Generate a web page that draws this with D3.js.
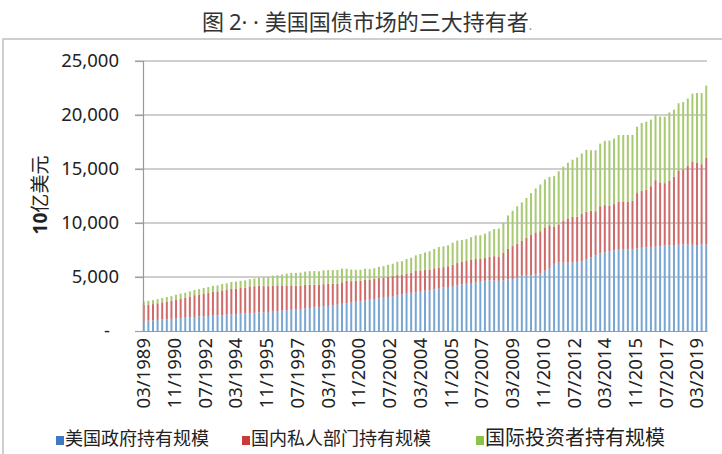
<!DOCTYPE html>
<html><head><meta charset="utf-8">
<script src="https://cdn.jsdelivr.net/npm/d3@7"></script>
<style>body{margin:0;background:#fff}svg{display:block}</style>
</head><body><svg id="c" width="722" height="454"></svg>
<script>
const titleParts = ["图 ", "2· · ", "美国国债市场的三大持有者"];
const yTitle = ["10", "亿美元"];
const seriesNames = ["美国政府持有规模", "国内私人部门持有规模", "国际投资者持有规模"];
const colors = ["#78a5d2", "#cf6a6a", "#a8ca72"];
const legendColors = ["#3f78c4", "#c93a3a", "#8cc24a"];
// quarterly, 03/1989 .. 09/2019 (billions USD)
const govt = [
 930,960,990,1030, 1060,1090,1120,1160, 1190,1230,1260,1300, 1330,1360,1390,1420,
 1440,1470,1500,1530, 1560,1600,1630,1660, 1680,1720,1740,1760, 1790,1840,1880,1920,
 1960,2010,2050,2090, 2130,2190,2230,2270, 2320,2390,2440,2520, 2560,2640,2700,2760,
 2810,2890,2960,3030, 3080,3150,3220,3310, 3370,3460,3530,3590, 3640,3730,3790,3860,
 3920,4030,4080,4150, 4210,4310,4380,4440, 4490,4610,4650,4690, 4670,4640,4690,4760,
 4820,5000,5180,5180, 5150,5250,5330,5580, 5820,6220,6330,6330, 6330,6370,6400,6460,
 6600,6830,6990,7180, 7300,7400,7470,7530, 7530,7550,7540,7630, 7700,7740,7790,7820,
 7850,7920,7930,7960, 7990,8010,8020,7980, 7950,8030,8010];
const privateDom = [
 1480,1490,1500,1530, 1590,1640,1690,1760, 1820,1850,1940,2020, 2050,2100,2140,2220,
 2230,2290,2290,2360, 2370,2390,2380,2470, 2470,2470,2410,2390, 2420,2390,2350,2300,
 2260,2190,2130,2170, 2160,2100,2080,2060, 2060,1990,1940,1990, 2100,1970,1960,1880,
 1950,1860,1860,1870, 1870,1870,1890,1910, 1840,1870,1870,1970, 1960,1940,1860,1950,
 1960,1880,1920,1990, 2080,2130,2100,2140, 2170,2070,2120,2190, 2260,2260,2530,2860,
 3040,3090,3160,3440, 3740,3880,3910,4010, 3970,3430,3550,3880, 4100,4180,4190,4400,
 4440,4310,4100,4380, 4350,4210,4280,4450, 4450,4440,4500,5140, 5280,5360,5620,6150,
 5920,5770,6010,6320, 6880,6960,7270,7720, 7650,7410,8040];
const foreign = [
 330,350,370,390, 400,410,420,440, 450,460,470,480, 500,520,530,540,
 560,590,620,650, 650,660,680,670, 710,760,820,840, 910,930,990,1100,
 1160,1180,1230,1240, 1250,1260,1220,1280, 1270,1260,1280,1270, 1110,1080,1010,1020,
 1010,980,990,1040, 1060,1110,1120,1190, 1250,1340,1380,1440, 1530,1600,1730,1790,
 1900,1930,1930,2030, 2080,1980,2030,2100, 2190,2190,2240,2350, 2510,2590,2800,3080,
 3270,3460,3570,3690, 3880,4070,4320,4440, 4480,4690,4910,5010, 5150,5310,5480,5570,
 5730,5600,5650,5790, 5950,6020,6070,6160, 6170,6160,6110,6150, 6280,6280,6160,6010,
 6080,6150,6300,6210, 6220,6230,6230,6270, 6430,6580,6670];
const yTicks = [0, 5000, 10000, 15000, 20000, 25000];

// month slots for the date axis
const months = [];
for (let y = 1989, m = 3; y < 2019 || (y === 2019 && m <= 9);) {
  months.push(String(m).padStart(2, "0") + "/" + y);
  m++; if (m > 12) { m = 1; y++; }
}
const quarters = months.filter((d, i) => i % 3 === 0);
const tickMonths = months.filter((d, i) => i % 20 === 0);

const data = quarters.map((q, i) => ({ q, g: govt[i], p: privateDom[i], f: foreign[i] }));
const keys = ["g", "p", "f"];

const svg = d3.select("#c");
const L = 143, R = 707, T = 61, B = 331;
const x = d3.scaleBand().domain(months).range([L, R]).padding(0);
const y = d3.scaleLinear().domain([0, 25000]).range([B, T]);

// chart frame
svg.append("rect").attr("x", 3).attr("y", 39).attr("width", 740).attr("height", 440)
  .attr("fill", "none").attr("stroke", "#c4c4c4").attr("stroke-width", 1.6);

// title
const tt = svg.append("text").attr("x", 367).attr("y", 30).attr("text-anchor", "middle")
  .attr("font-family", "'Noto Sans CJK SC', sans-serif").attr("font-size", 22).attr("fill", "#333");
tt.append("tspan").text(titleParts[0]);
tt.append("tspan").attr("font-family", "'Noto Sans', sans-serif").text(titleParts[1]);
tt.append("tspan").text(titleParts[2]);
tt.append("tspan").attr("font-size", 12).attr("fill", "#888").text(".");

// gridlines
svg.append("g").selectAll("line").data(yTicks.filter(d => d > 0)).join("line")
  .attr("x1", L - 8).attr("x2", R).attr("y1", d => y(d)).attr("y2", d => y(d))
  .attr("stroke", "#a0a0a0").attr("stroke-width", 1.2);

// bars
const stack = d3.stack().keys(keys)(data);
const barW = 2;
svg.append("g").selectAll("g").data(stack).join("g")
  .attr("fill", (d, i) => colors[i])
  .selectAll("rect").data(d => d).join("rect")
  .attr("x", d => x(d.data.q) + x.bandwidth() / 2 - barW / 2)
  .attr("width", barW)
  .attr("y", d => y(d[1]))
  .attr("height", d => y(d[0]) - y(d[1]));

// y axis
const yAxis = d3.axisLeft(y).tickValues(yTicks).tickSize(8).tickPadding(16)
  .tickFormat(d => d === 0 ? "-" : d3.format(",")(d));
const gy = svg.append("g").attr("transform", `translate(${L},0)`).call(yAxis);
gy.select(".domain").attr("stroke", "#999").attr("stroke-width", 1.2);
gy.selectAll(".tick line").attr("stroke", "#a0a0a0").attr("stroke-width", 1.2);
gy.selectAll(".tick text").attr("font-family", "'Noto Sans', sans-serif")
  .attr("font-size", 18.5).attr("fill", "#222")
  .attr("dx", d => d === 0 ? -9 : 0);

// x axis
const xAxis = d3.axisBottom(x).tickValues(tickMonths).tickSize(0).tickPadding(6);
const gx = svg.append("g").attr("transform", `translate(0,${B})`).call(xAxis);
gx.select(".domain").attr("stroke", "#999").attr("stroke-width", 1);
gx.selectAll(".tick text")
  .attr("font-family", "'Noto Sans', sans-serif").attr("font-size", 18.5).attr("fill", "#222")
  .attr("transform", "rotate(-90)").attr("text-anchor", "end")
  .attr("x", -7).attr("y", 0).attr("dy", "0.35em");

// y title
const yt = svg.append("text").attr("transform", "translate(47,195) rotate(-90)")
  .attr("text-anchor", "middle").attr("fill", "#222").attr("font-size", 19);
yt.append("tspan").attr("font-family", "'Noto Sans', sans-serif").attr("font-weight", "bold").text(yTitle[0]);
yt.append("tspan").attr("font-family", "'Noto Sans CJK SC', sans-serif").text(yTitle[1]);

// legend
const legX = [56, 242, 476];
const legFs = [18, 18, 20];
const lg = svg.append("g").selectAll("g").data(seriesNames).join("g")
  .attr("transform", (d, i) => `translate(${legX[i]},439)`);
lg.append("rect").attr("x", 0).attr("y", -3).attr("width", 8).attr("height", 9)
  .attr("fill", (d, i) => legendColors[i]);
lg.append("text").attr("x", 9).attr("y", 6).attr("font-size", (d, i) => legFs[i])
  .attr("font-family", "'Noto Sans CJK SC', sans-serif").attr("fill", "#222").text(d => d);
</script></body></html>
